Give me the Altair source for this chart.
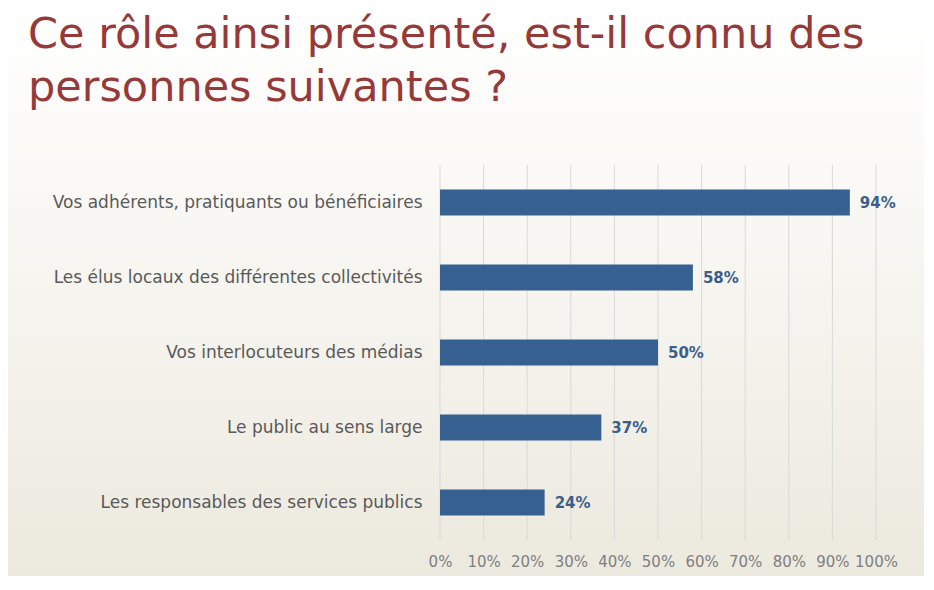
import altair as alt
import pandas as pd

categories = [
    "Vos adhérents, pratiquants ou bénéficiaires",
    "Les élus locaux des différentes collectivités",
    "Vos interlocuteurs des médias",
    "Le public au sens large",
    "Les responsables des services publics",
]
values = [0.94, 0.58, 0.50, 0.37, 0.24]
value_labels = ["94%", "58%", "50%", "37%", "24%"]
tick_values = [0.0, 0.1, 0.2, 0.3, 0.4, 0.5, 0.6, 0.7, 0.8, 0.9, 1.0]
title_lines = ["Ce rôle ainsi présenté, est-il connu des", "personnes suivantes ?"]

FONT = "DejaVu Sans"
W, H = 436, 375
PAD = {"left": 432, "top": 157, "right": 48, "bottom": 36}

df = pd.DataFrame({"cat": categories, "val": values, "label": value_labels})
grid_df = pd.DataFrame({"val": tick_values})
bg_df = pd.DataFrame({"k": [0]})

x_scale = alt.Scale(domain=[0, 1], nice=False, zero=True)
x_axis = alt.Axis(
    title=None, format="%", values=tick_values, grid=False, domain=False,
    ticks=False, labelColor="#7F7F7F", labelFontSize=15, labelFont=FONT,
    labelPadding=14, labelFlush=False, labelOverlap=False, zindex=2,
)

background = alt.Chart(bg_df).mark_rect(
    color=alt.Gradient(
        gradient="linear",
        stops=[
            alt.GradientStop(color="#FFFFFF", offset=0),
            alt.GradientStop(color="#FAF9F6", offset=0.3),
            alt.GradientStop(color="#ECE9DE", offset=1),
        ],
        x1=0, x2=0, y1=0, y2=1,
    )
).encode(
    x=alt.value(-PAD["left"]),
    x2=alt.value(W + PAD["right"]),
    y=alt.value(-PAD["top"]),
    y2=alt.value(H + PAD["bottom"]),
)

title = alt.Chart(bg_df).mark_text(
    align="left", baseline="alphabetic", fontSize=43, font=FONT,
    lineHeight=53, color="#963A39",
).encode(
    x=alt.value(20 - PAD["left"]),
    y=alt.value(40 - PAD["top"]),
    text=alt.value(title_lines),
)

grid = alt.Chart(grid_df).mark_rule(color="#D9D9D9", strokeWidth=1).encode(
    x=alt.X("val:Q", scale=x_scale, axis=x_axis),
    y=alt.value(0),
    y2=alt.value(H),
)

y_enc = alt.Y(
    "cat:N",
    sort=categories,
    scale=alt.Scale(paddingInner=0, paddingOuter=0),
    axis=alt.Axis(
        title=None, domain=False, ticks=False, labelPadding=18, zindex=2,
        labelColor="#595959", labelFontSize=17, labelFont=FONT, labelLimit=0,
    ),
)

bars = alt.Chart(df).mark_bar(size=26, color="#36608F").encode(
    x=alt.X("val:Q", scale=x_scale, axis=x_axis),
    y=y_enc,
)

texts = alt.Chart(df).mark_text(
    align="left", baseline="middle", dx=10, fontWeight="bold",
    color="#3B5E8C", fontSize=15, font=FONT,
).encode(
    x=alt.X("val:Q", scale=x_scale, axis=x_axis),
    y=alt.Y("cat:N", sort=categories),
    text="label:N",
)

chart = alt.layer(background, title, grid, bars, texts).properties(
    width=W,
    height=H,
    padding=PAD,
    autosize=alt.AutoSizeParams(type="none"),
).configure_view(stroke=None).configure(background="#FFFFFF")

chart.save("out.html", embed_options={"renderer": "svg", "actions": False})
